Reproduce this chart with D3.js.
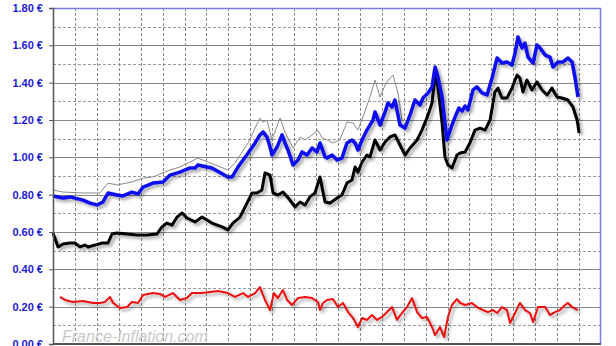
<!DOCTYPE html>
<html>
<head>
<meta charset="utf-8">
<script src="https://cdn.jsdelivr.net/npm/d3@7"></script>
<style>
  body { margin: 0; background: #fff; }
  svg { display: block; }
  .y.axis text { font-family: "Liberation Sans", Arial, sans-serif; font-size: 11px; font-weight: bold; fill: #1a1ad6; }
</style>
</head>
<body>
<div class="layout"></div>
<script>
// x positions are in grid periods (25 periods across the plot)
var yTicks = [0, 0.2, 0.4, 0.6, 0.8, 1.0, 1.2, 1.4, 1.6, 1.8];

var blueX = [0.00,0.46,0.78,1.37,1.69,2.01,2.28,2.51,2.92,3.19,3.60,3.88,4.11,4.56,5.02,5.34,5.79,6.25,6.48,6.61,7.25,7.98,8.17,8.44,8.90,9.22,9.44,9.58,9.76,9.90,9.99,10.22,10.45,10.58,10.72,10.95,11.18,11.36,11.59,11.82,12.04,12.18,12.41,12.50,12.73,12.96,13.18,13.41,13.64,13.78,13.91,14.10,14.32,14.60,14.69,14.92,15.15,15.28,15.47,15.60,15.83,16.06,16.29,16.51,16.74,16.88,17.11,17.29,17.43,17.56,17.75,17.88,17.97,18.20,18.38,18.52,18.66,18.80,18.93,19.16,19.34,19.57,19.80,20.03,20.26,20.48,20.71,20.94,21.08,21.21,21.40,21.53,21.67,21.90,22.08,22.22,22.45,22.67,22.81,23.04,23.27,23.49,23.68,23.81,23.95];
var blueY = [0.793,0.782,0.788,0.771,0.755,0.745,0.761,0.809,0.798,0.793,0.814,0.804,0.841,0.862,0.868,0.905,0.921,0.943,0.943,0.959,0.943,0.895,0.895,0.948,1.023,1.077,1.120,1.136,1.109,1.055,1.012,1.055,1.120,1.077,1.039,0.959,0.986,1.029,1.012,1.050,1.029,1.077,1.002,0.996,1.012,0.986,0.996,1.077,1.093,1.077,1.039,1.093,1.146,1.200,1.243,1.173,1.243,1.291,1.270,1.307,1.173,1.157,1.227,1.307,1.280,1.318,1.345,1.377,1.484,1.430,1.323,1.184,1.093,1.173,1.227,1.264,1.248,1.275,1.254,1.361,1.377,1.345,1.334,1.425,1.532,1.505,1.511,1.495,1.559,1.645,1.586,1.612,1.537,1.505,1.602,1.586,1.548,1.537,1.484,1.511,1.511,1.532,1.511,1.430,1.323];

var blackX = [0.00,0.23,0.46,0.78,1.00,1.23,1.46,1.60,1.92,2.24,2.51,2.69,2.92,3.38,3.83,4.29,4.74,4.97,5.20,5.43,5.66,5.89,6.11,6.48,6.80,7.25,7.71,7.98,8.21,8.53,8.85,9.08,9.31,9.53,9.67,9.90,10.04,10.26,10.49,10.81,11.04,11.27,11.50,11.72,11.95,12.18,12.41,12.64,12.96,13.18,13.41,13.64,13.78,13.91,14.10,14.32,14.46,14.69,14.92,15.15,15.37,15.60,15.83,16.06,16.29,16.61,16.83,17.06,17.29,17.43,17.56,17.75,17.88,18.02,18.20,18.43,18.57,18.80,19.02,19.25,19.48,19.71,19.94,20.16,20.30,20.48,20.71,20.94,21.17,21.30,21.44,21.62,21.85,22.08,22.31,22.54,22.76,22.99,23.22,23.49,23.72,23.91,24.00];
var blackY = [0.595,0.520,0.536,0.541,0.541,0.520,0.530,0.520,0.530,0.541,0.541,0.589,0.595,0.589,0.584,0.584,0.589,0.627,0.648,0.637,0.680,0.702,0.675,0.654,0.680,0.648,0.627,0.611,0.648,0.680,0.755,0.809,0.809,0.825,0.916,0.905,0.809,0.798,0.814,0.771,0.734,0.761,0.745,0.788,0.809,0.895,0.761,0.755,0.782,0.798,0.862,0.879,0.948,0.921,0.975,1.012,1.002,1.093,1.039,1.082,1.109,1.120,1.066,1.012,1.050,1.093,1.146,1.211,1.291,1.441,1.377,1.184,1.002,0.959,0.943,1.012,1.023,1.029,1.077,1.146,1.157,1.146,1.200,1.350,1.371,1.318,1.318,1.371,1.441,1.425,1.350,1.414,1.361,1.404,1.361,1.334,1.371,1.323,1.318,1.307,1.270,1.200,1.130];

var grayX = [0.00,0.46,1.37,2.14,2.51,2.92,3.60,4.11,4.56,5.34,5.79,6.25,6.61,7.98,8.30,8.90,9.22,9.44,9.58,9.76,9.99,10.36,10.58,10.95,11.27,11.50,11.82,12.09,12.27,12.50,12.77,13.09,13.41,13.69,13.91,14.14,14.46,14.69,14.92,15.15,15.37,15.51,15.74,15.92];
var grayY = [0.825,0.814,0.809,0.809,0.862,0.852,0.868,0.889,0.895,0.932,0.948,0.975,0.996,0.932,0.970,1.077,1.157,1.211,1.189,1.200,1.093,1.211,1.136,1.050,1.109,1.093,1.120,1.146,1.104,1.093,1.077,1.093,1.189,1.184,1.146,1.216,1.323,1.414,1.323,1.387,1.425,1.441,1.345,1.200];

var redX = [0.32,0.55,0.91,1.37,1.82,2.14,2.37,2.60,2.74,3.06,3.38,3.60,3.88,4.11,4.56,4.88,5.11,5.47,5.79,6.11,6.34,6.80,7.53,7.98,8.30,8.67,8.90,9.22,9.44,9.67,9.90,10.08,10.26,10.49,10.68,10.90,11.18,11.50,11.82,12.09,12.18,12.32,12.50,12.77,13.00,13.23,13.46,13.69,13.91,14.10,14.32,14.55,14.78,15.01,15.24,15.47,15.69,15.92,16.15,16.38,16.61,16.83,17.06,17.29,17.43,17.66,17.84,18.02,18.20,18.43,18.57,18.80,19.11,19.34,19.62,19.84,20.07,20.26,20.48,20.71,20.85,21.08,21.30,21.53,21.76,21.90,22.13,22.45,22.67,22.90,23.13,23.36,23.49,23.68,23.95];
var redY = [0.252,0.236,0.225,0.230,0.220,0.220,0.225,0.252,0.220,0.193,0.198,0.225,0.220,0.262,0.273,0.268,0.252,0.273,0.236,0.246,0.273,0.273,0.284,0.273,0.252,0.273,0.252,0.273,0.305,0.236,0.182,0.273,0.246,0.289,0.236,0.209,0.246,0.252,0.246,0.225,0.182,0.220,0.236,0.241,0.198,0.220,0.171,0.139,0.091,0.139,0.129,0.155,0.129,0.145,0.171,0.198,0.129,0.166,0.198,0.246,0.171,0.139,0.145,0.091,0.048,0.091,0.037,0.145,0.209,0.241,0.220,0.209,0.220,0.198,0.182,0.171,0.182,0.166,0.198,0.182,0.112,0.166,0.220,0.182,0.166,0.118,0.198,0.198,0.155,0.171,0.182,0.209,0.220,0.198,0.182];

var margin = {top: 8, right: 15, bottom: 2, left: 53},
    width = 616 - margin.left - margin.right,
    height = 346 - margin.top - margin.bottom;

var x = d3.scaleLinear().domain([0, 25]).range([0, width]);
var y = d3.scaleLinear().domain([0, 1.8]).range([height, 0]);

var svg = d3.select(".layout").append("svg")
    .attr("width", 616)
    .attr("height", 346);

var defs = svg.append("defs");
var f = defs.append("filter").attr("id", "shadow")
    .attr("x", "-5%").attr("y", "-10%").attr("width", "115%").attr("height", "130%");
f.append("feDropShadow")
    .attr("dx", 2.5).attr("dy", 2.5).attr("stdDeviation", 1.6)
    .attr("flood-color", "#000").attr("flood-opacity", 0.35);

var g = svg.append("g")
    .attr("transform", "translate(" + margin.left + "," + margin.top + ")");

// horizontal grid: solid on majors, dashed halfway
g.append("g").selectAll("line")
    .data(d3.range(0, 1.81, 0.1))
    .enter().append("line")
    .attr("x1", 0).attr("x2", width)
    .attr("y1", function(d) { return Math.round(y(d)) + 0.5; })
    .attr("y2", function(d) { return Math.round(y(d)) + 0.5; })
    .attr("stroke", function(d, i) { return i % 2 ? "#999" : "#888"; })
    .attr("stroke-dasharray", function(d, i) { return i % 2 ? "3,2" : null; });

// vertical grid
g.append("g").selectAll("line")
    .data(d3.range(1, 25))
    .enter().append("line")
    .attr("y1", 0).attr("y2", height)
    .attr("x1", function(d) { return Math.round(x(d)) + 0.5; })
    .attr("x2", function(d) { return Math.round(x(d)) + 0.5; })
    .attr("stroke", "#888")
    .attr("stroke-dasharray", "3,2");

// top / right frame
g.append("path")
    .attr("d", "M0,0.5H" + (width - 0.5) + "V" + height)
    .attr("fill", "none").attr("stroke", "#7a7ae0").attr("stroke-width", 1.5);

svg.append("text")
    .attr("x", 62).attr("y", 342)
    .attr("font-family", "Liberation Sans, Arial, sans-serif")
    .attr("font-style", "italic")
    .attr("font-size", 16)
    .attr("fill", "#c8c8c8")
    .text("France-Inflation.com");

function series(xs, ys) {
  return xs.map(function(d, i) { return [d, ys[i]]; });
}
var line = d3.line()
    .x(function(d) { return x(d[0]); })
    .y(function(d) { return y(d[1]); });

g.append("path").datum(series(grayX, grayY))
    .attr("d", line).attr("fill", "none")
    .attr("stroke", "#8a8a8a").attr("stroke-width", 1);

g.append("path").datum(series(redX, redY))
    .attr("d", line).attr("fill", "none")
    .attr("stroke", "#ee1111").attr("stroke-width", 2)
    .attr("stroke-linejoin", "round")
    .attr("filter", "url(#shadow)");

g.append("path").datum(series(blackX, blackY))
    .attr("d", line).attr("fill", "none")
    .attr("stroke", "#000").attr("stroke-width", 3)
    .attr("stroke-linejoin", "round")
    .attr("filter", "url(#shadow)");

g.append("path").datum(series(blueX, blueY))
    .attr("d", line).attr("fill", "none")
    .attr("stroke", "#0a0af0").attr("stroke-width", 3.5)
    .attr("stroke-linejoin", "round")
    .attr("filter", "url(#shadow)");

// axes
var yAxis = d3.axisLeft(y)
    .tickValues(yTicks)
    .tickSize(4)
    .tickPadding(6)
    .tickFormat(function(d) { return d3.format(".2f")(d) + " €"; });

g.append("g")
    .attr("class", "y axis")
    .call(yAxis)
    .call(function(a) {
      a.select(".domain").attr("stroke", "#555").attr("stroke-width", 1.5);
      a.selectAll(".tick line").attr("stroke", "#555");
    });

g.append("line")
    .attr("x1", 0).attr("x2", width)
    .attr("y1", height).attr("y2", height)
    .attr("stroke", "#555").attr("stroke-width", 2);
</script>
</body>
</html>
